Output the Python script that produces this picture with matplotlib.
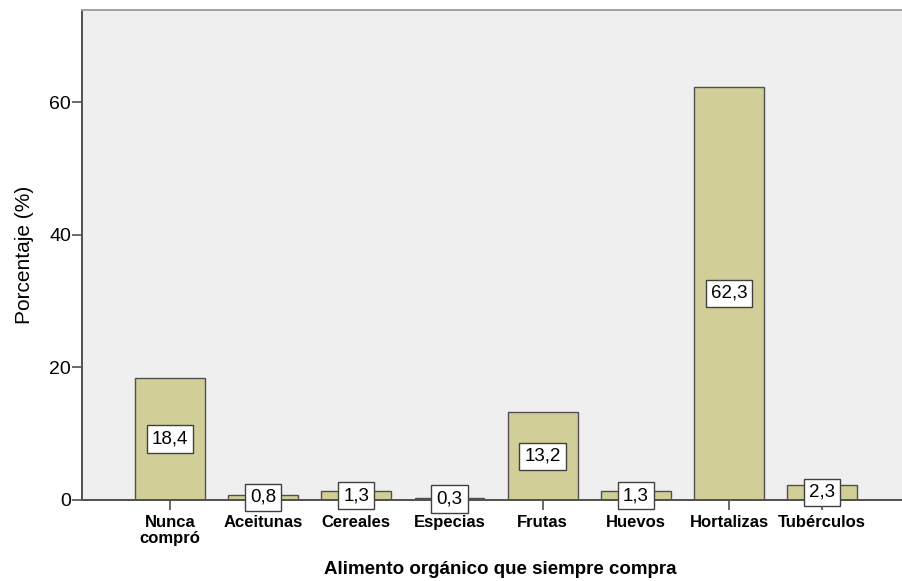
import numpy as np
import matplotlib.pyplot as plt

categories = ["Nunca\ncompró", "Aceitunas", "Cereales", "Especias",
              "Frutas", "Huevos", "Hortalizas", "Tubérculos"]
values = [18.4, 0.8, 1.3, 0.3, 13.2, 1.3, 62.3, 2.3]
y_ticks = [0, 20, 40, 60]

plt.rcParams.update({"font.family": ["Liberation Sans", "DejaVu Sans"]})

W, H = 903, 581
fig = plt.figure(figsize=(W / 100, H / 100), dpi=100)
ax = fig.add_axes([82 / W, 81 / H, 821 / W, 490 / H])
ax.set_facecolor("#efefef")

x = np.arange(len(categories))
ax.bar(x, values, width=0.75, color="#d2ce97", edgecolor="#505050", lw=1.0, zorder=2)

# value labels sit in white boxes at mid-height of each bar
for xi, v in zip(x, values):
    ax.text(xi, v / 2, f"{v:.1f}".replace(".", ","), ha="center", va="center",
            fontsize=13.5, color="black", zorder=4,
            bbox=dict(boxstyle="square,pad=0.27", fc="white", ec="#404040", lw=1.0))

ax.set_xlim(-0.944, 7.866)
ax.set_ylim(0, 73.9)
ax.set_yticks(y_ticks)
ax.set_xticks(x)
ax.set_xticklabels(categories, fontsize=12, fontweight="bold", linespacing=1.05)
ax.tick_params(axis="y", labelsize=14, length=7, width=1.2, color="#505050", pad=1)
ax.tick_params(axis="x", length=7, width=1.2, color="#505050", pad=4)

for side in ["left", "bottom"]:
    ax.spines[side].set_color("#505050")
    ax.spines[side].set_linewidth(1.4)
ax.spines["top"].set_color("#a0a0a0")
ax.spines["top"].set_linewidth(1.4)
ax.spines["right"].set_visible(False)

fig.text(500 / W, 1 - 569 / H, "Alimento orgánico que siempre compra",
         fontsize=13.5, fontweight="bold", ha="center", va="center")
fig.text(25 / W, 1 - 255 / H, "Porcentaje (%)", fontsize=15, rotation=90,
         ha="center", va="center")

fig.savefig("out.png", dpi=100)
